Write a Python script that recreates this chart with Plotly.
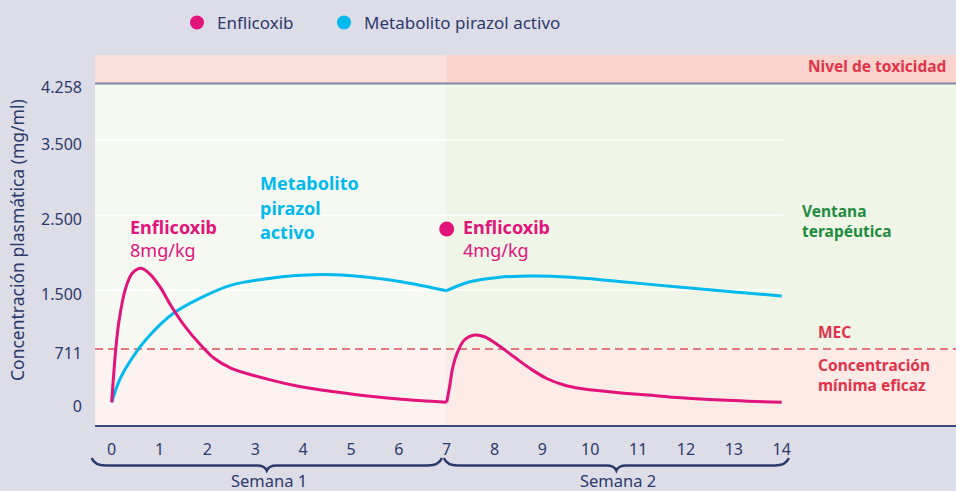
import plotly.graph_objects as go

# ---------------- data ----------------
enf_w1_days = [0, 0.08, 0.15, 0.29, 0.43, 0.61, 0.82, 1.03, 1.23, 1.51, 1.86, 2.14, 2.5, 3.25, 3.95, 4.65, 5.35, 6.05, 7]
enf_w1_vals = [0, 676, 1077, 1522, 1723, 1790, 1700, 1522, 1300, 1032, 765, 588, 454, 310, 209, 142, 84, 40, 0]
enf_w2_days = [7, 7.06, 7.13, 7.23, 7.37, 7.58, 7.79, 8.07, 8.42, 8.77, 9.1, 9.45, 9.8, 10.5, 11.21, 11.9, 12.6, 13.3, 14]
enf_w2_vals = [0, 209, 475, 676, 832, 899, 876, 765, 601, 440, 315, 232, 185, 135, 97, 61, 35, 15, 0]

met_w1_days = [0, 0.18, 0.52, 0.8, 1.29, 1.86, 2.5, 3.25, 3.95, 4.65, 5.35, 6.05, 7]
met_w1_vals = [0, 320, 676, 899, 1189, 1395, 1565, 1650, 1697, 1705, 1670, 1611, 1491]
met_w2_days = [7, 7.38, 7.72, 8.07, 8.77, 9.6, 10.5, 11.9, 12.95, 14]
met_w2_vals = [1491, 1590, 1640, 1668, 1687, 1670, 1620, 1536, 1477, 1420]

dose2_day = [7]
dose2_val = [2315]

x_ticks = list(range(0, 15))
y_tick_vals = [0, 711, 1500, 2500, 3500, 4258]
y_tick_text = ["0", "711", "1.500", "2.500", "3.500", "4.258"]
grid_vals = [1500, 2500, 3500]
MEC = 711
TOX = 4258
WEEK_SPLIT = 7
week_labels = ["Semana 1", "Semana 2"]
week_spans = [(-0.42, 6.9), (6.94, 14.15)]

series_names = ["Enflicoxib", "Metabolito pirazol activo"]

# ---------------- style ----------------
W, H = 956, 491
ML, MR, MT, MB = 95, 0, 55, 66
PW, PH = W - ML - MR, H - MT - MB
X_RANGE = [-0.349, 17.642]
Y_RANGE = [-303, 4639]
GRID_END = 14.02

BG = "#dddde7"
NAVY = "#2b3a6b"
MAGENTA = "#e2137b"
CYAN = "#00b9ee"
RED = "#e2334b"
GREEN = "#1f8b3e"
TOX_L, TOX_R = "#fbdfd9", "#f8d4cc"
GRN_L, GRN_R = "#f6f9f2", "#eff5e7"
LOW_L, LOW_R = "#fcf2ef", "#fcebe6"
FONT = "Noto Sans"


def x_px(d):
    return ML + (d - X_RANGE[0]) / (X_RANGE[1] - X_RANGE[0]) * PW


def xp(px):
    return (px - ML) / PW


def yp(py):
    return (H - MB - py) / PH


def y_val(py):
    return Y_RANGE[1] - (py - MT) / PH * (Y_RANGE[1] - Y_RANGE[0])


fig = go.Figure()

line_kw = dict(mode="lines", line_shape="spline", showlegend=False, hoverinfo="skip")
fig.add_trace(go.Scatter(x=met_w1_days, y=met_w1_vals, line=dict(color=CYAN, width=3, smoothing=1.0), **line_kw))
fig.add_trace(go.Scatter(x=met_w2_days, y=met_w2_vals, line=dict(color=CYAN, width=3, smoothing=1.0), **line_kw))
fig.add_trace(go.Scatter(x=enf_w1_days, y=enf_w1_vals, line=dict(color=MAGENTA, width=3, smoothing=0.9), **line_kw))
fig.add_trace(go.Scatter(x=enf_w2_days, y=enf_w2_vals, line=dict(color=MAGENTA, width=3, smoothing=1.0), **line_kw))
fig.add_trace(go.Scatter(x=dose2_day, y=dose2_val, mode="markers",
                         marker=dict(color=MAGENTA, size=15), showlegend=False, hoverinfo="skip"))

# legend entries (each in its own legend box for exact placement)
for name, col, lg in zip(series_names, [MAGENTA, CYAN], ["legend", "legend2"]):
    fig.add_trace(go.Scatter(x=[None], y=[None], mode="markers", name=name, legend=lg,
                             marker=dict(color=col, size=14)))

shapes = []
for (x0, x1, ctop, cgrn, clow) in [(X_RANGE[0], WEEK_SPLIT, TOX_L, GRN_L, LOW_L),
                                    (WEEK_SPLIT, X_RANGE[1], TOX_R, GRN_R, LOW_R)]:
    shapes.append(dict(type="rect", xref="x", yref="y", x0=x0, x1=x1, y0=TOX, y1=Y_RANGE[1],
                       fillcolor=ctop, line_width=0, layer="below"))
    shapes.append(dict(type="rect", xref="x", yref="y", x0=x0, x1=x1, y0=MEC, y1=TOX,
                       fillcolor=cgrn, line_width=0, layer="below"))
    shapes.append(dict(type="rect", xref="x", yref="y", x0=x0, x1=x1, y0=Y_RANGE[0], y1=MEC,
                       fillcolor=clow, line_width=0, layer="below"))
for g in grid_vals:
    shapes.append(dict(type="line", xref="x", yref="y", x0=X_RANGE[0], x1=GRID_END, y0=g, y1=g,
                       line=dict(color="white", width=1.5), layer="below"))
shapes.append(dict(type="line", xref="x", yref="y", x0=X_RANGE[0], x1=X_RANGE[1], y0=TOX, y1=TOX,
                   line=dict(color="#7d88a6", width=2), layer="below"))
shapes.append(dict(type="line", xref="x", yref="y", x0=X_RANGE[0], x1=X_RANGE[1], y0=MEC, y1=MEC,
                   line=dict(color="#e2505a", width=1.5, dash="8px,5px"), layer="below"))


def brace_path(d0, d1):
    x0, x1 = x_px(d0), x_px(d1)
    xm = (x0 + x1) / 2
    yt, yb, ym = 458, 465.5, 470.5

    def P(x, y):
        return f"{xp(x):.5f},{yp(y):.5f}"
    return (f"M {P(x0, yt)} Q {P(x0 + 3, yb)} {P(x0 + 14, yb)} L {P(xm - 10, yb)} "
            f"Q {P(xm - 2, yb)} {P(xm, ym)} Q {P(xm + 2, yb)} {P(xm + 10, yb)} "
            f"L {P(x1 - 14, yb)} Q {P(x1 - 3, yb)} {P(x1, yt)}")


annotations = []
for (d0, d1), lab in zip(week_spans, week_labels):
    shapes.append(dict(type="path", xref="paper", yref="paper", path=brace_path(d0, d1),
                       line=dict(color=NAVY, width=2.4)))
    xm = (x_px(d0) + x_px(d1)) / 2
    annotations.append(dict(x=xp(xm + 2), y=yp(480), xref="paper", yref="paper", text=lab,
                            showarrow=False, xanchor="center", yanchor="middle", borderpad=0,
                            font=dict(size=16.5, color=NAVY, family=FONT)))

annotations.append(dict(x=xp(17), y=0.5, xref="paper", yref="paper",
                        text="Concentración plasmática (mg/ml)", textangle=-90, showarrow=False,
                        xanchor="center", yanchor="middle",
                        font=dict(size=17.5, color=NAVY, family=FONT)))


def data_label(text, px, py, color, bold=True, size=18):
    t = f"<b>{text}</b>" if bold else text
    annotations.append(dict(x=(px - x_px(0)) / (x_px(1) - x_px(0)), y=y_val(py), xref="x", yref="y",
                            text=t, showarrow=False, xanchor="left", yanchor="middle",
                            font=dict(size=size, color=color, family=FONT)))


data_label("Enflicoxib", 128, 227.3, MAGENTA)
data_label("8mg/kg", 128, 250, MAGENTA, bold=False)
data_label("Metabolito", 258, 183.3, CYAN)
data_label("pirazol", 258, 208.3, CYAN)
data_label("activo", 258, 231.7, CYAN)
data_label("Enflicoxib", 461, 227.3, MAGENTA)
data_label("4mg/kg", 461, 250, MAGENTA, bold=False)


def side_label(text, px, py, color, anchor="left"):
    annotations.append(dict(x=xp(px), y=yp(py), xref="paper", yref="paper", text=f"<b>{text}</b>",
                            showarrow=False, xanchor=anchor, yanchor="middle", align="left",
                            font=dict(size=15.5, color=color, family=FONT)))


side_label("Nivel de toxicidad", 948, 66, RED, anchor="right")
side_label("Ventana<br>terapéutica", 800, 220.5, GREEN)
side_label("MEC", 816, 332, RED)
side_label("Concentración<br>mínima eficaz", 816, 374.5, RED)

leg_common = dict(orientation="h", xanchor="left", yanchor="middle", bgcolor="rgba(0,0,0,0)",
                  font=dict(size=17, color=NAVY, family=FONT))

fig.update_layout(
    width=W, height=H,
    margin=dict(l=ML, r=MR, t=MT, b=MB),
    paper_bgcolor=BG, plot_bgcolor=BG,
    font=dict(family=FONT, color=NAVY),
    shapes=shapes, annotations=annotations,
    showlegend=True,
    legend=dict(x=xp(177), y=yp(23), **leg_common),
    legend2=dict(x=xp(324), y=yp(23), **leg_common),
    xaxis=dict(range=X_RANGE, tickvals=x_ticks, showgrid=False, zeroline=False,
               showline=True, linecolor="#3b4a7a", linewidth=2, ticks="",
               ticklabelstandoff=9, tickfont=dict(size=16, color=NAVY, family=FONT), fixedrange=True),
    yaxis=dict(range=Y_RANGE, tickvals=y_tick_vals, ticktext=y_tick_text, showgrid=False,
               zeroline=False, showline=False, ticks="", ticklabelstandoff=12, ticklabelshift=4,
               tickfont=dict(size=16, color=NAVY, family=FONT), fixedrange=True),
)

fig.write_html("out.html", config={"displayModeBar": False},
               post_script="document.body.style.margin='0px';document.body.style.overflow='hidden';")
